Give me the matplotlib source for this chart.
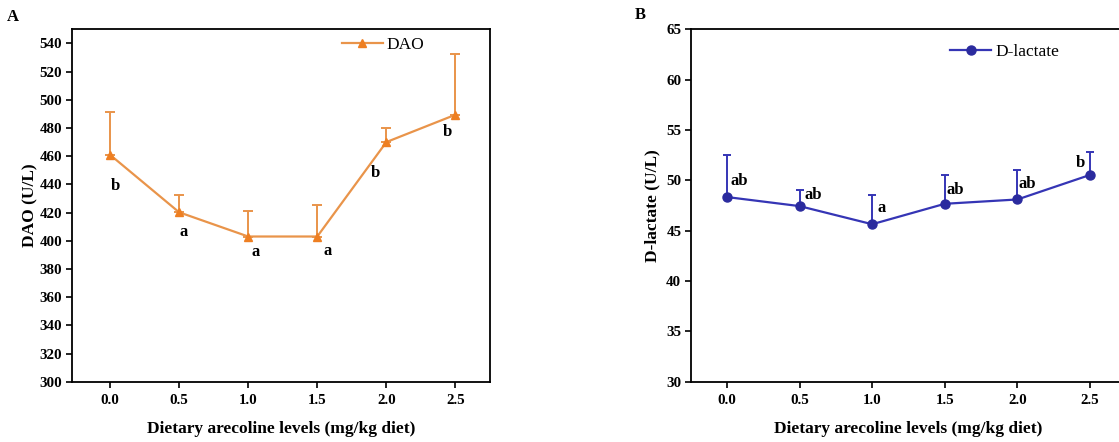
import numpy as np
import matplotlib
matplotlib.use("Agg")
import matplotlib.pyplot as plt

plt.rcParams['font.family'] = ['Liberation Serif', 'DejaVu Serif']

# datos
niveles = [0.0, 0.5, 1.0, 1.5, 2.0, 2.5]
etiquetas_x = ["0.0", "0.5", "1.0", "1.5", "2.0", "2.5"]

dao_media = [461.0, 420.2, 403.0, 403.0, 470.0, 489.4]
dao_sd = [30.5, 12.3, 18.0, 22.5, 10.0, 43.0]
dao_letras = ["b", "a", "a", "a", "b", "b"]
dao_letras_x = [0.036, 0.535, 1.055, 1.577, 1.92, 2.44]
dao_letras_y = [439, 406, 392, 393, 448, 477]

dlac_media = [48.34, 47.44, 45.64, 47.67, 48.10, 50.54]
dlac_sd = [4.13, 1.63, 2.93, 2.90, 2.97, 2.30]
dlac_letras = ["ab", "ab", "a", "ab", "ab", "b"]
dlac_letras_x = [0.027, 0.533, 1.034, 1.511, 2.01, 2.434]
dlac_letras_y = [49.9, 48.57, 47.24, 49.0, 49.67, 51.74]

COLOR_DAO = '#E9944A'
COLOR_DAO_MK = '#EE7F22'
COLOR_DLAC = '#3535B5'
COLOR_DLAC_MK = '#2B2B9E'

W, H = 1119, 442
fig = plt.figure(figsize=(W / 100, H / 100), dpi=100)

ax1 = fig.add_axes([72 / W, (H - 381.7) / H, (490 - 72) / W, 352.4 / H])
ax2 = fig.add_axes([691 / W, (H - 381.7) / H, (1126 - 691) / W, 352.4 / H])


def dibujar(ax, media, sd, color, color_mk, marker, ms, cap, nombre):
    ceros = np.zeros(len(sd))
    ax.errorbar(niveles, media, yerr=[ceros, sd], fmt='none', ecolor=color,
                elinewidth=1.4, capsize=cap, capthick=1.4, zorder=2)
    ax.plot(niveles, media, color=color, linewidth=1.6, marker=marker,
            markersize=ms, markerfacecolor=color_mk, markeredgecolor=color_mk,
            label=nombre, zorder=3)
    ax.set_xticks(niveles)
    ax.set_xticklabels(etiquetas_x)
    ax.tick_params(axis='both', direction='out', length=4, width=1.2,
                   labelsize=10.8, pad=3)
    ax.tick_params(axis='x', pad=5)
    for sp in ax.spines.values():
        sp.set_linewidth(1.3)
    ax.set_xlabel("Dietary arecoline levels (mg/kg diet)", fontsize=12.5,
                  fontweight='bold')
    ax.xaxis.set_label_coords(0.5, -(421 - 381.7) / 352.4)


dibujar(ax1, dao_media, dao_sd, COLOR_DAO, COLOR_DAO_MK, '^', 6, 3.6, "DAO")
ax1.set_xlim(-0.275, 2.75)
ax1.set_ylim(300, 550)
ax1.set_yticks(np.arange(300, 541, 20))
for lab in ax1.get_xticklabels() + ax1.get_yticklabels():
    lab.set_fontweight('bold')
ax1.set_ylabel("DAO (U/L)", fontsize=12.5, fontweight='bold', va='center')
ax1.yaxis.set_label_coords((30 - 72) / 418, 0.5)
for x, y, t in zip(dao_letras_x, dao_letras_y, dao_letras):
    ax1.text(x, y, t, fontsize=12, fontweight='bold', ha='center', va='center')
ax1.legend(loc='center left', bbox_to_anchor=(0.645, 0.955), frameon=False,
           fontsize=12.5, handlelength=2.4, handletextpad=0.2,
           borderpad=0, borderaxespad=0)

dibujar(ax2, dlac_media, dlac_sd, COLOR_DLAC, COLOR_DLAC_MK, 'o', 6.5, 3.0, "D-lactate")
ax2.set_xlim(-0.247, 2.747)
ax2.set_ylim(30, 65)
ax2.set_yticks(np.arange(30, 66, 5))
for lab in ax2.get_xticklabels() + ax2.get_yticklabels():
    lab.set_fontweight('bold')
ax2.set_ylabel("D-lactate (U/L)", fontsize=12.5, fontweight='bold', va='center')
ax2.yaxis.set_label_coords((652 - 691) / 435, 0.5)
for x, y, t in zip(dlac_letras_x, dlac_letras_y, dlac_letras):
    if t == "b" and x > 2.3:
        ax2.text(x, y, t, fontsize=12, fontweight='bold', ha='center', va='center')
    else:
        ax2.text(x, y, t, fontsize=12, fontweight='bold', ha='left', va='center')
ax2.legend(loc='center left', bbox_to_anchor=(0.595, 0.935), frameon=False,
           fontsize=12.5, handlelength=2.4, handletextpad=0.2,
           borderpad=0, borderaxespad=0)

fig.text(13 / W, 1 - 17 / H, "A", fontsize=12, fontweight='bold', ha='center', va='center')
fig.text(640 / W, 1 - 15 / H, "B", fontsize=12, fontweight='bold', ha='center', va='center')

fig.savefig("out.png", dpi=100)
